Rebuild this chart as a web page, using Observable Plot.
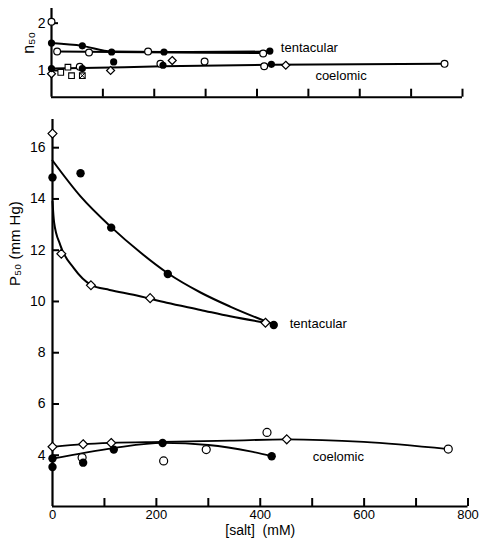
<!DOCTYPE html>
<html><head><meta charset="utf-8">
<script src="https://cdn.jsdelivr.net/npm/d3@7"></script>
<script src="https://cdn.jsdelivr.net/npm/@observablehq/plot@0.6"></script>
<style>
body{margin:0;background:#fff;}
#wrap{position:relative;width:486px;height:540px;overflow:hidden;background:#fff;}
#top{position:absolute;left:0;top:0;}
#bot{position:absolute;left:0;top:105px;}
</style></head><body><div id="wrap"><div id="top"></div><div id="bot"></div></div>
<script>
// ---------- tick values ----------
const xMinorTicks = [100, 200, 300, 400, 500, 600, 700, 800];
const xLabelTicks = [0, 200, 400, 600, 800];
const nTicks = [1, 2];
const pTicks = [4, 6, 8, 10, 12, 14, 16];
const xDomain = [0, 800];
const nDomain = [0.435, 2.31];
const pDomain = [2, 17.1];

// ---------- top panel: n50 ----------
const nTentFilledX = [0, 60, 117, 219, 425];
const nTentFilledY = [1.58, 1.52, 1.39, 1.39, 1.41];
const nTentOpenX = [0, 11, 73, 188, 412];
const nTentOpenY = [2.03, 1.40, 1.38, 1.40, 1.36];
const nTentFitAX = [0, 60, 117, 219, 425];
const nTentFitAY = [1.58, 1.52, 1.40, 1.39, 1.40];
const nTentFitBX = [11, 117, 412];
const nTentFitBY = [1.40, 1.39, 1.37];

const nCoelFilledX = [0, 60, 121, 217, 428];
const nCoelFilledY = [1.04, 1.04, 1.18, 1.11, 1.13];
const nCoelOpenX = [55, 212, 298, 414, 765];
const nCoelOpenY = [1.08, 1.14, 1.19, 1.09, 1.14];
const nCoelDiamondX = [0, 115, 235, 456];
const nCoelDiamondY = [0.93, 1.00, 1.21, 1.11];
const nCoelSquareX = [18, 32, 39, 60];
const nCoelSquareY = [0.96, 1.07, 0.89, 0.89];
const nCoelCrossX = [60];
const nCoelCrossY = [0.89];
const nCoelFitX = [0, 60, 217, 428, 765];
const nCoelFitY = [1.04, 1.05, 1.09, 1.12, 1.14];

// ---------- bottom panel: P50 ----------
const pTentFilledX = [0, 54, 113, 222, 426];
const pTentFilledY = [14.84, 15.0, 12.88, 11.07, 9.08];
const pTentDiamondX = [0, 17, 74, 188, 410];
const pTentDiamondY = [16.55, 11.86, 10.63, 10.13, 9.17];
const pTentFitAX = [0, 54, 113, 170, 222, 285, 342, 426];
const pTentFitAY = [15.5, 14.1, 12.9, 11.9, 11.1, 10.35, 9.8, 9.1];
const pTentFitBX = [0, 3, 15, 41, 74, 110, 156, 220, 285, 342, 410];
const pTentFitBY = [13.9, 13.1, 12.2, 11.3, 10.65, 10.45, 10.26, 9.95, 9.67, 9.42, 9.17];

const pCoelFilledX = [0, 0, 59, 118, 212, 422];
const pCoelFilledY = [3.87, 3.54, 3.71, 4.22, 4.48, 3.96];
const pCoelOpenX = [57, 214, 296, 413, 762];
const pCoelOpenY = [3.91, 3.78, 4.22, 4.89, 4.24];
const pCoelDiamondX = [0, 59, 113, 451];
const pCoelDiamondY = [4.33, 4.43, 4.48, 4.62];
const pCoelFitAX = [0, 59, 113, 212, 342, 451, 599, 762];
const pCoelFitAY = [4.33, 4.43, 4.48, 4.52, 4.57, 4.62, 4.52, 4.24];
const pCoelFitBX = [0, 118, 212, 300, 381, 422];
const pCoelFitBY = [3.87, 4.28, 4.48, 4.4, 4.15, 3.96];

const pts = (xs, ys) => xs.map((x, i) => ({x, y: ys[i]}));
const FONT = '"Liberation Sans", Arial, sans-serif';

const filled = (d, r) => Plot.dot(d, {x: "x", y: "y", r, fill: "black"});
const open = (d, r) => Plot.dot(d, {x: "x", y: "y", r, fill: "white", stroke: "black", strokeWidth: 1.2});
const diamond = (d, r) => Plot.dot(d, {x: "x", y: "y", r, symbol: "diamond2", fill: "white", stroke: "black", strokeWidth: 1.2});
const fit = (d, w) => Plot.line(d, {x: "x", y: "y", curve: "monotone-x", stroke: "black", strokeWidth: w});
const last = d => [d[d.length - 1]];

// inward tick marks (pixel lengths converted into data units of each panel)
const TICK_X = 8, TICK_Y = 7;
function inwardTicks(xTicks, yTicks, yDom, dim) {
  const fw = dim.width - dim.ml - dim.mr, fh = dim.height - dim.mt - dim.mb;
  const dyData = TICK_X * (yDom[1] - yDom[0]) / fh;
  const dxData = TICK_Y * (xDomain[1] - xDomain[0]) / fw;
  return [
    Plot.ruleX(xTicks, {x: d => d, y1: yDom[0], y2: yDom[0] + dyData, strokeWidth: 2, stroke: "black"}),
    Plot.ruleY(yTicks, {y: d => d, x1: xDomain[0], x2: xDomain[0] + dxData, strokeWidth: 2, stroke: "black"})
  ];
}

// ---------- top chart ----------
const T = {width: 486, height: 105, ml: 51, mr: 24, mt: 8, mb: 8.3};
const nTF = pts(nTentFilledX, nTentFilledY);
const nCF = pts(nCoelFilledX, nCoelFilledY);
const topChart = Plot.plot({
  width: T.width, height: T.height,
  marginLeft: T.ml, marginRight: T.mr, marginTop: T.mt, marginBottom: T.mb,
  x: {domain: xDomain, axis: null},
  y: {domain: nDomain},
  style: {background: "white", color: "black", fontFamily: FONT},
  marks: [
    Plot.ruleX([0], {strokeWidth: 2.2}),
    Plot.ruleY([nDomain[0]], {strokeWidth: 2}),
    ...inwardTicks(xMinorTicks, nTicks, nDomain, T),
    Plot.axisY({ticks: nTicks, tickSize: 0, tickPadding: 6, tickFormat: d => d, label: null, fontSize: 14}),
    fit(pts(nTentFitAX, nTentFitAY), 2),
    fit(pts(nTentFitBX, nTentFitBY), 2),
    fit(pts(nCoelFitX, nCoelFitY), 2),
    Plot.dot(pts(nCoelSquareX, nCoelSquareY), {x: "x", y: "y", r: 3.6, symbol: "square2", fill: "white", stroke: "black", strokeWidth: 1.1}),
    Plot.dot(pts(nCoelCrossX, nCoelCrossY), {x: "x", y: "y", r: 2.6, symbol: "times", stroke: "black", strokeWidth: 1}),
    diamond(pts(nCoelDiamondX, nCoelDiamondY), 3.6),
    open(pts(nCoelOpenX, nCoelOpenY), 3.4),
    open(pts(nTentOpenX, nTentOpenY), 3.4),
    filled(nCF, 3.6),
    filled(nTF, 3.6),
    Plot.text(last(nTF), {x: "x", y: "y", text: () => "tentacular", dx: 11, dy: -3, textAnchor: "start", fontSize: 13, letterSpacing: "2px"}),
    Plot.text(last(nCF), {x: "x", y: "y", text: () => "coelomic", dx: 44, dy: 12, textAnchor: "start", fontSize: 13, letterSpacing: "2px"}),
    Plot.text(["n₅₀"], {frameAnchor: "left", rotate: -90, dx: -23, dy: 1, fontSize: 16, letterSpacing: "1px"})
  ]
});
document.getElementById("top").appendChild(topChart);

// ---------- bottom chart ----------
const B = {width: 486, height: 435, ml: 52, mr: 18.5, mt: 14, mb: 34};
const pTF = pts(pTentFilledX, pTentFilledY);
const pCF = pts(pCoelFilledX, pCoelFilledY);
const botChart = Plot.plot({
  width: B.width, height: B.height,
  marginLeft: B.ml, marginRight: B.mr, marginTop: B.mt, marginBottom: B.mb,
  x: {domain: xDomain},
  y: {domain: pDomain},
  style: {background: "white", color: "black", fontFamily: FONT},
  marks: [
    Plot.ruleX([0], {strokeWidth: 2.2}),
    Plot.ruleY([pDomain[0]], {strokeWidth: 2}),
    ...inwardTicks(xMinorTicks, pTicks, pDomain, B),
    Plot.axisX({ticks: xLabelTicks, tickSize: 0, tickPadding: 3, label: null, fontSize: 13, letterSpacing: "1.5px"}),
    Plot.axisY({ticks: pTicks, tickSize: 0, tickPadding: 7, label: null, fontSize: 14}),
    fit(pts(pTentFitAX, pTentFitAY), 2),
    fit(pts(pTentFitBX, pTentFitBY), 2),
    fit(pts(pCoelFitAX, pCoelFitAY), 1.8),
    fit(pts(pCoelFitBX, pCoelFitBY), 1.8),
    diamond(pts(pTentDiamondX, pTentDiamondY), 4),
    diamond(pts(pCoelDiamondX, pCoelDiamondY), 4),
    open(pts(pCoelOpenX, pCoelOpenY), 4),
    filled(pCF, 4.2),
    filled(pTF, 4.2),
    Plot.text(last(pTF), {x: "x", y: "y", text: () => "tentacular", dx: 16, dy: -1, textAnchor: "start", fontSize: 13, letterSpacing: "2px"}),
    Plot.text(last(pCF), {x: "x", y: "y", text: () => "coelomic", dx: 41, dy: 1, textAnchor: "start", fontSize: 13, letterSpacing: "2px"}),
    Plot.text(["P₅₀ (mm Hg)"], {frameAnchor: "left", rotate: -90, dx: -37, dy: -27, fontSize: 15, letterSpacing: "1.5px"}),
    Plot.text(["[salt]\u00a0\u00a0(mM)"], {frameAnchor: "bottom", dy: 28, fontSize: 14, letterSpacing: "1.5px"})
  ]
});
document.getElementById("bot").appendChild(botChart);
</script></body></html>
